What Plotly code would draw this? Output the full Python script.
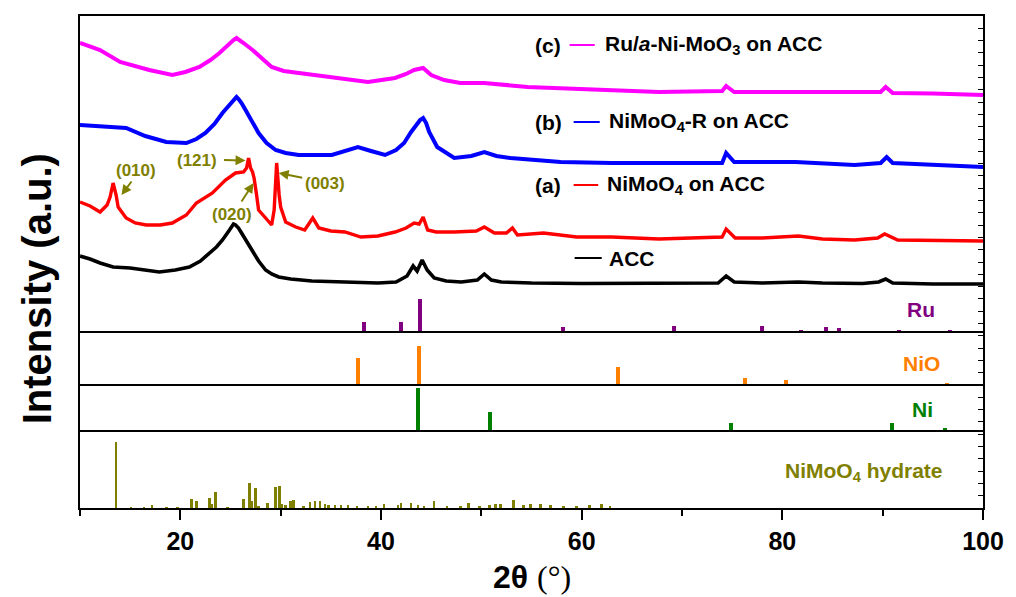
import plotly.graph_objects as go

# ---------------- data ----------------
acc_x = [10, 11, 12, 13.3, 15, 16.5, 17.9, 19.5, 20.9, 22, 22.9, 23.6, 24.2, 24.6, 24.9, 25.1,
         25.3, 25.5, 25.8, 26.1, 26.6, 27.1, 27.8, 28.5, 29.1, 29.8, 31, 33.1, 36, 39.7, 41.5,
         42.6, 43.2, 43.6, 44.1, 44.6, 45.3, 46.5, 48, 49.6, 50.3, 51, 52, 55, 60, 65, 70, 73.6,
         74.4, 75.2, 78, 81.6, 84, 88, 89.6, 90.3, 91, 95, 100]
acc_y = [252, 249, 245, 241, 240, 238, 236, 238, 241, 247, 255, 261, 268, 273, 278, 281,
         284, 283, 280, 275, 267, 258, 247, 238, 234, 231, 229, 227, 226, 225, 226,
         232, 242, 237, 248, 238, 230, 227, 226, 228, 234, 228, 226, 225, 224.5, 224.5, 224.5, 225,
         232, 226, 225, 226, 225, 224.5, 226, 229, 225, 224, 224]

a_x = [10, 11, 12, 12.7, 13.0, 13.3, 13.6, 13.8, 14.6, 15.5, 16.6, 18, 19.2, 20.6, 21.6, 22.4,
       23.2, 24.5, 25.5, 26.3, 26.6, 26.8, 27.0, 27.2, 27.35, 27.6, 27.8, 28.5, 29.1, 29.35,
       29.6, 29.85, 30.0, 30.5, 31.5, 32.4, 33.2, 33.8, 35, 36.4, 38, 39.7, 41.4, 42.5, 43.3,
       43.8, 44.2, 44.65, 45.5, 47.3, 49.5, 50.3, 51.3, 52.5, 53.1, 53.6, 56.2, 59.5, 63, 67.7,
       71, 74.0, 74.4, 75.3, 78, 81.6, 84, 87.2, 89.5, 90.2, 91.5, 95, 100]
a_y = [306, 302, 296, 303, 311, 325, 313, 301, 290, 285, 283, 283, 285, 293, 305, 310,
       315, 328, 335, 336, 340, 350, 340, 336, 330, 313, 298, 290, 283, 298,
       345, 313, 301, 286, 281, 278, 290, 280, 277, 276, 271, 272, 276, 280, 285,
       284, 291, 278, 276, 276, 277, 281, 275, 275, 280, 273, 275, 271, 271, 269,
       270, 271, 279, 270, 270, 272, 269, 268, 270, 274, 268, 267.5, 267]

b_x = [10, 12, 14.6, 16.5, 18.6, 20.6, 21.6, 22.5, 23.4, 24.2, 24.7, 25.1, 25.4, 25.6, 25.8,
       26.1, 26.5, 27.1, 27.8, 28.6, 29.5, 30.5, 31.8, 35.1, 36.5, 37.7, 39, 40.4, 41.5, 42.3,
       43.0, 43.5, 43.9, 44.2, 44.5, 44.8, 45.6, 47.3, 49, 50.3, 51.5, 52.9, 57.9, 63, 67.7,
       74.0, 74.4, 75.2, 81.3, 87.2, 89.8, 90.4, 91, 95, 100]
b_y = [383, 382, 380, 372, 366, 365, 369, 375, 384, 395, 401, 406, 409, 411, 409,
       405, 398, 387, 375, 365, 358, 355, 353, 353, 357, 361, 357, 353, 358, 365,
       376, 383, 388, 390, 385, 376, 361, 350, 352, 356, 352, 350, 346, 345, 345,
       345, 355, 346, 346, 343, 345, 351, 345, 343, 341]

c_x = [10, 12, 14, 16.9, 19.2, 20.5, 21.9, 23, 23.9, 24.5, 25.0, 25.3, 25.6, 25.9, 26.3, 27.2,
       28.2, 29.1, 30.3, 31.8, 35.1, 38.7, 41.4, 42.5, 43.3, 44.2, 45, 46.3, 47.9, 50.3, 54.6,
       61.2, 67.7, 74, 74.4, 75.2, 81, 87.2, 89.8, 90.3, 91, 95, 100]
c_y = [465, 458, 446, 438, 433, 436, 441, 448, 455, 461, 465, 468, 470, 468, 465, 458,
       449, 441, 437, 435, 430, 426, 430, 434, 438, 440, 433, 428, 425, 425, 421,
       418, 416, 417, 422, 416, 416, 415, 416, 421, 415, 414.5, 413]

# reference stick patterns (baseline offsets + peak positions/heights)
ref_base = [176, 123, 77, 0]

ru_x = [38.3, 42.0, 43.9, 58.1, 69.2, 78.0, 81.9, 84.4, 85.6, 91.6, 96.7]
ru_h = [9.7, 9.7, 33, 5, 6, 6, 2, 5, 4, 2, 2]

nio_x = [37.7, 43.8, 63.6, 76.3, 80.4, 96.4]
nio_h = [26.7, 39, 18, 7, 5, 2]

ni_x = [43.7, 50.9, 74.9, 90.9, 96.2]
ni_h = [43, 19, 8, 8, 3]

hyd_x = [13.6, 15.1, 16.4, 17.2, 18.6, 19.7, 21.1, 21.6, 22.9, 23.1, 23.5, 24.7, 26.3, 26.9,
         27.1, 27.5, 27.8, 28.7, 29.5, 29.9, 30.1, 30.5, 31.0, 31.3, 32.3, 32.9, 33.4, 33.9,
         34.4, 34.75, 35.4, 36.0, 36.7, 37.6, 38.7, 39.5, 40.3, 41.7, 42.0, 43.0, 43.7, 44.3,
         45.3, 46.6, 47.9, 48.7, 49.8, 50.8, 51.4, 51.9, 53.2, 54.2, 54.9, 55.9, 56.9, 58.2,
         59.5, 60.8, 62.0, 62.8]
hyd_h = [66, 1, 1, 3.3, 1, 1, 9, 7, 10, 4, 15.7, 1, 9, 24.7,
         7, 20, 2, 4.7, 20.7, 22, 4, 3.3, 6.7, 8, 1.3, 5.7, 6.7, 6.7,
         4, 3.3, 3.3, 3.3, 3.3, 2.3, 1.7, 1.7, 4.3, 3.3, 5, 5, 3.3, 2.3,
         6.7, 2.3, 2.3, 5, 2.3, 3.3, 4.3, 4.3, 7.7, 3, 4.3, 3.7, 3.3, 2.3,
         2.3, 3, 3.7, 2.3]

curve_colors = ["#000000", "#FF0000", "#0000FF", "#FF00FF"]
stick_colors = ["#800080", "#FF8000", "#008000", "#808000"]

FONT = "Liberation Sans, Arial, sans-serif"

fig = go.Figure()

# separator lines (baselines of stick patterns)
for b in ref_base[:3]:
    fig.add_trace(go.Scatter(x=[10, 100], y=[b, b], mode="lines",
                             line=dict(color="black", width=2), hoverinfo="skip"))

# stick patterns
for xs, hs, base, col, w in [(ru_x, ru_h, ref_base[0], stick_colors[0], 0.4),
                             (nio_x, nio_h, ref_base[1], stick_colors[1], 0.4),
                             (ni_x, ni_h, ref_base[2], stick_colors[2], 0.4),
                             (hyd_x, hyd_h, ref_base[3], stick_colors[3], 0.25)]:
    fig.add_trace(go.Bar(x=xs, y=hs, base=[base] * len(xs), width=w,
                         marker=dict(color=col, line=dict(width=0))))

# XRD curves
for xs, ys, col, lw in [(acc_x, acc_y, curve_colors[0], 3.6), (a_x, a_y, curve_colors[1], 3.4),
                        (b_x, b_y, curve_colors[2], 4), (c_x, c_y, curve_colors[3], 4)]:
    fig.add_trace(go.Scatter(x=xs, y=ys, mode="lines",
                             line=dict(color=col, width=lw)))

# invisible trace for right axis
fig.add_trace(go.Scatter(x=[10], y=[0], yaxis="y2", mode="markers",
                         marker=dict(opacity=0), hoverinfo="skip"))

ann = []
shapes = []

# legend-like labels
leg = [("(c)", "Ru/<i>a</i>-Ni-MoO<sub>3</sub> on ACC", 463, curve_colors[3], 58.8, 61.3, 62.1),
       ("(b)", "NiMoO<sub>4</sub>-R on ACC", 386, curve_colors[2], 59.2, 61.8, 62.5),
       ("(a)", "NiMoO<sub>4</sub> on ACC", 323, curve_colors[1], 59.2, 61.65, 62.3),
       ("", "ACC", 250, curve_colors[0], 59.3, 62.0, 62.5)]
for tag, txt, yy, col, x0, x1, xt in leg:
    if tag:
        ann.append(dict(x=55.1, y=yy, text=tag, showarrow=False, xanchor="left", yanchor="middle",
                        font=dict(family=FONT, size=21, color="black", weight="bold")))
    ann.append(dict(x=xt, y=yy, text=txt, showarrow=False, xanchor="left", yanchor="middle",
                    font=dict(family=FONT, size=21, color="black", weight="bold")))
    shapes.append(dict(type="line", x0=x0, x1=x1, y0=yy, y1=yy, xref="x", yref="y",
                       line=dict(color=col, width=2)))

# stick labels
for txt, xx, yy, col, xa in [("Ru", 93.8, 199, stick_colors[0], "center"),
                             ("NiO", 93.9, 145, stick_colors[1], "center"),
                             ("Ni", 94.0, 99, stick_colors[2], "center"),
                             ("NiMoO<sub>4</sub> hydrate", 96.2, 36, stick_colors[3], "right")]:
    ann.append(dict(x=xx, y=yy, text=txt, showarrow=False, xanchor=xa, yanchor="middle",
                    font=dict(family=FONT, size=21, color=col, weight="bold")))

# hkl labels with arrows
olive = "#808000"
for txt, tx, ty, ax, ay, hx, hy in [("(010)", 15.6, 338, 15.25, 328, 14.13, 313),
                                    ("(121)", 21.7, 347.5, 24.2, 348, 26.5, 347.5),
                                    ("(003)", 34.45, 325, 32.3, 330, 29.8, 335),
                                    ("(020)", 25.15, 294, 26.0, 305, 27.3, 325)]:
    ann.append(dict(x=tx, y=ty, text=txt, showarrow=False, xanchor="center", yanchor="middle",
                    font=dict(family=FONT, size=17, color=olive, weight="bold")))
    ann.append(dict(x=hx, y=hy, ax=ax, ay=ay, axref="x", ayref="y", text="", showarrow=True,
                    arrowhead=2, arrowsize=1, arrowwidth=2, arrowcolor=olive))

# axis titles
ann.append(dict(x=-0.0474, y=0.445, xref="paper", yref="paper", text="Intensity (a.u.)",
                textangle=-90, showarrow=False, xanchor="center", yanchor="middle",
                font=dict(family=FONT, size=40, color="black", weight="bold")))
ann.append(dict(x=0.5, y=-0.14, xref="paper", yref="paper",
                text='<b>2θ</b> <span style="font-family:Liberation Serif, serif;font-weight:normal">(°)</span>',
                showarrow=False, xanchor="center", yanchor="middle",
                font=dict(family=FONT, size=32, color="black")))

fig.update_layout(
    width=1016, height=597,
    margin=dict(l=80, r=28, t=16, b=89),
    paper_bgcolor="white", plot_bgcolor="white",
    showlegend=False, barmode="overlay", bargap=0,
    annotations=ann, shapes=shapes,
    xaxis=dict(range=[10, 100], tickvals=[20, 40, 60, 80, 100],
               ticks="outside", ticklen=10, tickwidth=2, tickcolor="black",
               minor=dict(tickvals=[10, 30, 50, 70, 90], ticks="outside", ticklen=6,
                          tickwidth=2, tickcolor="black"),
               showline=True, linecolor="black", linewidth=2, mirror=True,
               showgrid=False, zeroline=False,
               tickfont=dict(family=FONT, size=25, color="black", weight="bold")),
    yaxis=dict(range=[0, 492], showticklabels=False, ticks="",
               showline=True, linecolor="black", linewidth=2, mirror=True,
               showgrid=False, zeroline=False),
    yaxis2=dict(range=[0, 492], overlaying="y", side="right", anchor="x",
                showticklabels=False, ticks="inside", ticklen=5, tickwidth=1,
                tickcolor="black", dtick=12.3, tick0=0,
                showline=False, showgrid=False, zeroline=False),
)

fig.write_html("out.html")
